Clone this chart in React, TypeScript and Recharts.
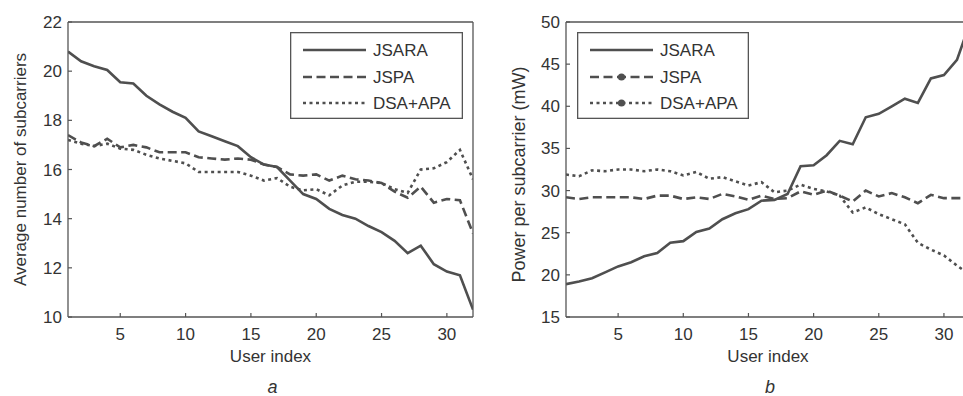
import React from 'react';
import { LineChart, Line, XAxis, YAxis, Legend } from 'recharts';

// ---------- data ----------
const users = [1, 2, 3, 4, 5, 6, 7, 8, 9, 10, 11, 12, 13, 14, 15, 16, 17, 18, 19, 20, 21, 22, 23, 24, 25, 26, 27, 28, 29, 30, 31, 32];
const xTicks = [5, 10, 15, 20, 25, 30];
const seriesNames = ['JSARA', 'JSPA', 'DSA+APA'];

// panel a: average number of subcarriers
const subcarriersJSARA = [20.8, 20.4, 20.2, 20.05, 19.55, 19.5, 19.0, 18.65, 18.35, 18.1, 17.55, 17.35, 17.15, 16.95, 16.5, 16.2, 16.1, 15.55, 15.0, 14.8, 14.4, 14.15, 14.0, 13.7, 13.45, 13.1, 12.6, 12.9, 12.15, 11.85, 11.7, 10.3];
const subcarriersJSPA = [17.4, 17.1, 16.95, 17.25, 16.9, 17.0, 16.9, 16.7, 16.7, 16.7, 16.5, 16.45, 16.4, 16.45, 16.4, 16.2, 16.1, 15.8, 15.75, 15.8, 15.55, 15.75, 15.6, 15.55, 15.45, 15.1, 14.85, 15.3, 14.65, 14.8, 14.75, 13.4];
const subcarriersDSA = [17.2, 17.05, 16.95, 17.05, 16.85, 16.8, 16.6, 16.45, 16.35, 16.25, 15.9, 15.9, 15.9, 15.9, 15.75, 15.55, 15.65, 15.3, 15.15, 15.2, 14.95, 15.35, 15.5, 15.5, 15.45, 15.2, 15.05, 16.0, 16.05, 16.3, 16.8, 15.6];
const subcarrierTicks = [10, 12, 14, 16, 18, 20, 22];

// panel b: power per subcarrier (mW)
const powerJSARA = [18.9, 19.2, 19.6, 20.3, 21.0, 21.5, 22.2, 22.6, 23.8, 24.0, 25.1, 25.5, 26.6, 27.3, 27.8, 28.8, 28.9, 29.6, 32.9, 33.0, 34.2, 35.9, 35.5, 38.7, 39.1, 40.0, 40.9, 40.4, 43.3, 43.7, 45.5, 49.9];
const powerJSPA = [29.2, 29.0, 29.2, 29.2, 29.2, 29.2, 29.0, 29.4, 29.4, 29.0, 29.2, 29.0, 29.6, 29.3, 28.9, 29.4, 29.0, 29.1, 29.9, 29.5, 30.0, 29.4, 28.7, 30.0, 29.3, 29.7, 29.2, 28.5, 29.5, 29.1, 29.1, 29.1];
const powerDSA = [31.9, 31.7, 32.4, 32.3, 32.5, 32.5, 32.3, 32.5, 32.3, 31.8, 32.2, 31.4, 31.6, 31.1, 30.6, 31.0, 29.8, 30.0, 30.7, 30.2, 29.9, 29.4, 27.4, 28.0, 27.2, 26.6, 26.0, 23.8, 23.0, 22.3, 21.1, 20.0];
const powerTicks = [15, 20, 25, 30, 35, 40, 45, 50];

// ---------- styles ----------
const FONT = '"Liberation Sans", Arial, Helvetica, sans-serif';
const TEXT = '#333333';
const AXIS = '#555555';
const LINE = '#4f4f4f';
const LW = 2.6;
const dashes = [undefined, '9 4.5', '3 3.5'];

const subData = users.map((u, i) => ({ user: u, s0: subcarriersJSARA[i], s1: subcarriersJSPA[i], s2: subcarriersDSA[i] }));
const powData = users.map((u, i) => ({ user: u, s0: powerJSARA[i], s1: powerJSPA[i], s2: powerDSA[i] }));

function XLabel(props: any) {
  const vb = props.viewBox || { x: props.fx, y: 317, width: props.fw, height: 79 };
  const cx = vb.x + vb.width / 2;
  return (
    <g>
      <text x={cx} y={vb.y + 45} textAnchor="middle" fontSize={17} fontFamily={FONT} fill={TEXT}>User index</text>
      <text x={cx + 2} y={vb.y + 76} textAnchor="middle" fontSize={18} fontStyle="italic" fontFamily={FONT} fill={TEXT}>{props.letter}</text>
    </g>
  );
}

function YLabel(props: any) {
  const vb = props.viewBox || { x: 0, y: 22, width: 68, height: 295 };
  const cy = vb.y + vb.height / 2 + (props.dy || 0);
  const bx = props.bx;
  return (
    <text x={bx} y={cy} transform={`rotate(-90 ${bx} ${cy})`} textAnchor="middle" fontSize={props.fs || 17} fontFamily={FONT} fill={TEXT}>
      {props.text}
    </text>
  );
}

function LegendBox({ width, dots }: { width: number; dots: boolean }) {
  const rows = [18, 45, 71];
  return (
    <svg width={width} height={87} style={{ display: 'block' }}>
      <rect x={0.65} y={0.65} width={width - 1.3} height={85.7} fill="#fff" stroke={AXIS} strokeWidth={1.3} />
      {seriesNames.map((name, i) => (
        <g key={name}>
          <line x1={13} x2={76} y1={rows[i]} y2={rows[i]} stroke={LINE} strokeWidth={LW} strokeDasharray={dashes[i]} />
          {dots && i > 0 ? <circle cx={44.5} cy={rows[i]} r={3.6} fill={LINE} /> : null}
          <text x={83} y={rows[i] + 6} fontSize={17} fontFamily={FONT} fill={TEXT}>{name}</text>
        </g>
      ))}
    </svg>
  );
}

type PanelProps = {
  left: number;
  width: number;
  plotLeft: number;
  data: any[];
  yDomain: [number, number];
  yTicks: number[];
  yLabel: string;
  yLabelX: number;
  yLabelDy: number;
  yLabelFs: number;
  letter: string;
  legendLeft: number;
  legendWidth: number;
  legendDots: boolean;
};

function Panel(p: PanelProps) {
  const tickStyle = { fill: TEXT, fontSize: 17, fontFamily: FONT };
  const axisLine = { stroke: AXIS, strokeWidth: 1.3 };
  const tickLine = { stroke: AXIS, strokeWidth: 1.2 };
  return (
    <div style={{ position: 'absolute', left: p.left, top: 0 }}>
      <LineChart width={p.width} height={396} data={p.data} margin={{ top: 22, right: 7, bottom: 0, left: 0 }}>
        <XAxis
          xAxisId="b"
          dataKey="user"
          type="number"
          domain={[1, 32]}
          ticks={xTicks}
          interval={0}
          allowDataOverflow
          height={79}
          axisLine={axisLine}
          tickLine={tickLine}
          tickSize={-4}
          tickMargin={15}
          tick={tickStyle}
          label={<XLabel letter={p.letter} fx={p.plotLeft} fw={p.width - p.plotLeft - 7} />}
        />
        <XAxis
          xAxisId="t"
          orientation="top"
          mirror
          dataKey="user"
          type="number"
          domain={[1, 32]}
          ticks={xTicks}
          interval={0}
          allowDataOverflow
          axisLine={axisLine}
          tickLine={tickLine}
          tickSize={4}
          tick={false}
        />
        <YAxis
          yAxisId="l"
          type="number"
          domain={p.yDomain}
          ticks={p.yTicks}
          interval={0}
          allowDataOverflow
          width={p.plotLeft}
          axisLine={axisLine}
          tickLine={tickLine}
          tickSize={-4}
          tickMargin={10}
          tick={tickStyle}
          label={<YLabel text={p.yLabel} bx={p.yLabelX} dy={p.yLabelDy} fs={p.yLabelFs} />}
        />
        <YAxis
          yAxisId="r"
          orientation="right"
          mirror
          type="number"
          domain={p.yDomain}
          ticks={p.yTicks}
          interval={0}
          allowDataOverflow
          axisLine={axisLine}
          tickLine={tickLine}
          tickSize={4}
          tick={false}
        />
        {[0, 1, 2].map((i) => (
          <Line
            key={i}
            xAxisId="b"
            yAxisId="l"
            type="linear"
            dataKey={`s${i}`}
            name={seriesNames[i]}
            stroke={LINE}
            strokeWidth={LW}
            strokeDasharray={dashes[i]}
            dot={false}
            activeDot={false}
            isAnimationActive={false}
          />
        ))}
        <Legend
          layout="vertical"
          align="center"
          verticalAlign="middle"
          wrapperStyle={{ left: p.legendLeft, top: 32, width: p.legendWidth, height: 87 }}
          content={() => <LegendBox width={p.legendWidth} dots={p.legendDots} />}
        />
      </LineChart>
    </div>
  );
}

export default function App() {
  return (
    <div style={{ position: 'fixed', left: 0, top: 0, width: 963, height: 396, overflow: 'hidden', background: '#fff' }}>
      <Panel
        left={0}
        width={480}
        plotLeft={68}
        data={subData}
        yDomain={[10, 22]}
        yTicks={subcarrierTicks}
        yLabel="Average number of subcarriers"
        yLabelX={26}
        yLabelDy={0}
        yLabelFs={17}
        letter="a"
        legendLeft={290}
        legendWidth={173}
        legendDots={false}
      />
      <Panel
        left={480}
        width={497}
        plotLeft={86}
        data={powData}
        yDomain={[15, 50]}
        yTicks={powerTicks}
        yLabel="Power per subcarrier (mW)"
        yLabelX={45}
        yLabelDy={5}
        yLabelFs={18}
        letter="b"
        legendLeft={97}
        legendWidth={172}
        legendDots={true}
      />
    </div>
  );
}
